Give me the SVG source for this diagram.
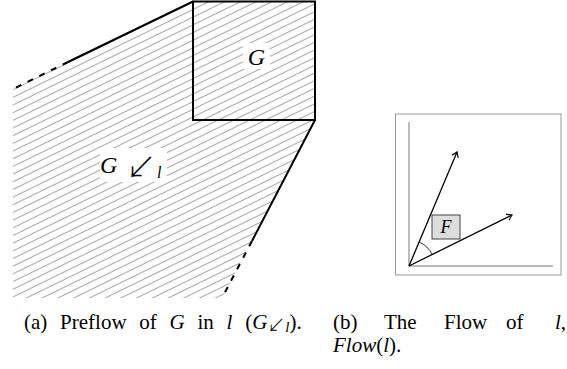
<svg xmlns="http://www.w3.org/2000/svg" width="567" height="369" viewBox="0 0 567 369">
  <style>
    .edge { stroke: #000; stroke-width: 2; fill: none; }
    .dash { stroke: #000; stroke-width: 2; fill: none; stroke-dasharray: 6 7; }
    .math { font-family: "Liberation Serif", "DejaVu Serif", serif; font-style: italic; fill: #000; }
    .cap { font-family: "Liberation Serif", "DejaVu Serif", serif; font-size: 21px; fill: #000; }
    .it { font-style: italic; }
    .arr { font-family: "Noto Sans CJK JP", "DejaVu Sans", sans-serif; font-weight: 300; fill: #000; }
    .axis { stroke: #bbb; stroke-width: 2; fill: none; }
    .vec { stroke: #000; stroke-width: 1.3; fill: none; marker-end: url(#tip); }
  </style>
  <defs>
    <pattern id="hatch" patternUnits="userSpaceOnUse" width="20" height="6.9" patternTransform="rotate(-26)">
      <line x1="-1" y1="3.45" x2="21" y2="3.45" stroke="#aaa" stroke-width="1.1"/>
    </pattern>
    <marker id="tip" markerWidth="10" markerHeight="10" refX="0" refY="0" viewBox="-6 -5 8 10" orient="auto" markerUnits="userSpaceOnUse">
      <path d="M -5 -3.5 Q -1.5 -0.8 0 0 Q -1.5 0.8 -5 3.5" stroke="#000" stroke-width="1.2" fill="none"/>
    </marker>
  </defs>

  <!-- (a) Preflow -->
  <g id="preflow-region">
    <polygon points="13,89 193,1.5 315,1.5 315,120 222,298 13,298" fill="url(#hatch)" stroke="none"/>
  </g>
  <g id="node-G">
    <rect x="193" y="1.5" width="122" height="118.5" class="edge"/>
    <rect x="243" y="43" width="27" height="26" fill="#fff"/>
    <text x="256.5" y="65" class="math" font-size="24" text-anchor="middle">G</text>
  </g>
  <g id="node-Gl">
    <rect x="100" y="148" width="67" height="34" fill="#fff"/>
    <text x="100" y="173" class="math" font-size="24">G</text>
    <text x="126" y="178" class="arr" font-size="30">↙</text>
    <text x="157" y="178" class="math" font-size="16">l</text>
  </g>
  <g id="connectors">
    <line x1="193" y1="1.5" x2="68" y2="62" class="edge"/>
    <line x1="68" y1="62" x2="13" y2="89" class="dash"/>
    <line x1="315" y1="120" x2="252" y2="241" class="edge"/>
    <line x1="252" y1="241" x2="222" y2="298" class="dash"/>
  </g>

  <!-- (b) Flow -->
  <g id="flow-frame">
    <rect x="395.5" y="114" width="165.5" height="161" fill="none" stroke="#999" stroke-width="1"/>
    <line x1="409" y1="122" x2="409" y2="266" class="axis"/>
    <line x1="409" y1="266" x2="553" y2="266" class="axis"/>
  </g>
  <g id="node-F">
    <rect x="432" y="215" width="28" height="24" fill="#ddd" stroke="#444" stroke-width="1"/>
    <text x="446" y="233" class="math" font-size="18" text-anchor="middle">F</text>
  </g>
  <g id="flow-vectors">
    <line x1="409" y1="266" x2="457" y2="152" class="vec"/>
    <line x1="409" y1="266" x2="512" y2="215" class="vec"/>
    <path d="M 419.1 242.1 A 26 26 0 0 1 432.3 254.5" fill="none" stroke="#000" stroke-width="0.8"/>
  </g>

  <!-- captions -->
  <g id="caption-a" class="cap">
    <text x="24" y="329" word-spacing="7.5">(a) Preflow of <tspan class="it">G</tspan> in <tspan class="it">l</tspan> (<tspan class="it">G</tspan><tspan class="arr" font-size="18" dy="3">↙</tspan><tspan class="it" font-size="15">l</tspan><tspan dy="-3">).</tspan></text>
  </g>
  <g id="caption-b" class="cap">
    <text x="333" y="329">(b)</text>
    <text x="384" y="329">The</text>
    <text x="444" y="329">Flow</text>
    <text x="506" y="329">of</text>
    <text x="555" y="329"><tspan class="it">l</tspan>,</text>
    <text x="333" y="352"><tspan class="it">Flow</tspan>(<tspan class="it">l</tspan>).</text>
  </g>
</svg>
